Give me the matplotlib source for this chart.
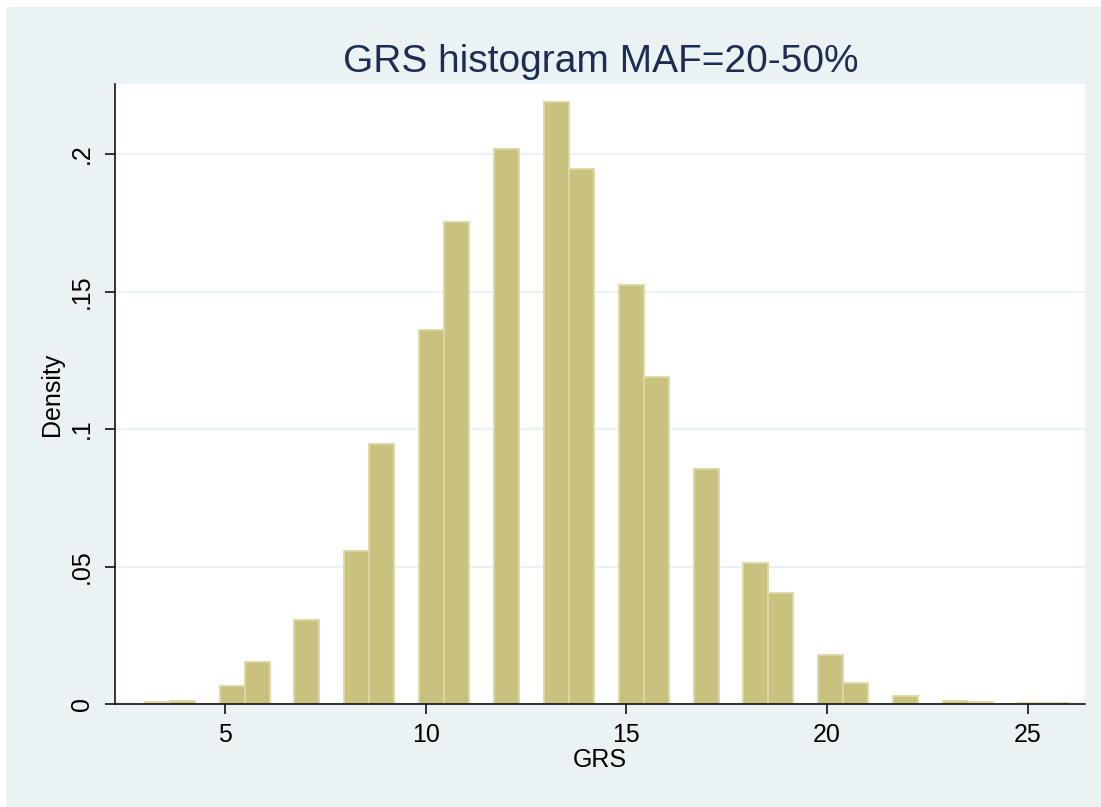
import numpy as np
import matplotlib.pyplot as plt
from matplotlib.patches import Rectangle

# histogram of GRS: 37 equal bins from 3 to 26, density per bin
lo = 3.0
hi = 26.0
nbins = 37
density = [0.0007, 0.001, 0.0, 0.0064, 0.0153, 0.0, 0.0304, 0.0, 0.0556, 0.0945,
           0.0, 0.1362, 0.1754, 0.0, 0.2019, 0.0, 0.2189, 0.1946, 0.0, 0.1525,
           0.1189, 0.0, 0.0854, 0.0, 0.0512, 0.0402, 0.0, 0.0180, 0.0076, 0.0,
           0.0031, 0.0, 0.0012, 0.0006, 0.0, 0.0004, 0.0004]
xticks = [5, 10, 15, 20, 25]
yticks = [0, 0.05, 0.1, 0.15, 0.2]
ytick_labels = ['0', '.05', '.1', '.15', '.2']

plt.rcParams['font.family'] = ['Liberation Sans', 'DejaVu Sans']

bg = '#EAF2F3'
fig = plt.figure(figsize=(11.01, 8.07), dpi=100, facecolor='white')
fig.add_artist(Rectangle((6/1101, 0), 1, 1 - 7/807, transform=fig.transFigure,
                         facecolor=bg, edgecolor='none', zorder=-10))
ax = fig.add_axes([0.1049, 0.1276, 0.8806, 0.7683])
ax.set_zorder(1)
ax.set_facecolor('white')

edges = np.linspace(lo, hi, nbins + 1)
ax.bar(edges[:-1], density, width=np.diff(edges), align='edge',
       color='#C9C27F', edgecolor='#DCD8A6', linewidth=1.3, zorder=3)

ax.set_xlim(2.27, 26.43)
ax.set_ylim(0, 0.2255)
ax.set_xticks(xticks)
ax.set_yticks(yticks)
ax.set_yticklabels(ytick_labels, rotation=90, va='center')

ax.grid(axis='y', color=bg, linewidth=1.6, zorder=1)
ax.set_axisbelow(True)
for s in ['top', 'right']:
    ax.spines[s].set_visible(False)
for s in ['left', 'bottom']:
    ax.spines[s].set_linewidth(1.1)
    ax.spines[s].set_zorder(4)
ax.tick_params(axis='both', length=7.5, width=1.1, labelsize=18, colors='black')
ax.tick_params(axis='x', pad=6)
ax.tick_params(axis='y', pad=8)

ax.set_xlabel('GRS', fontsize=18, labelpad=1)
ax.set_ylabel('Density', fontsize=18, labelpad=4)
ax.set_title('GRS histogram MAF=20-50%', fontsize=28, color='#1E2D53', pad=8.5)

fig.savefig('out.png', dpi=100, facecolor=fig.get_facecolor())
